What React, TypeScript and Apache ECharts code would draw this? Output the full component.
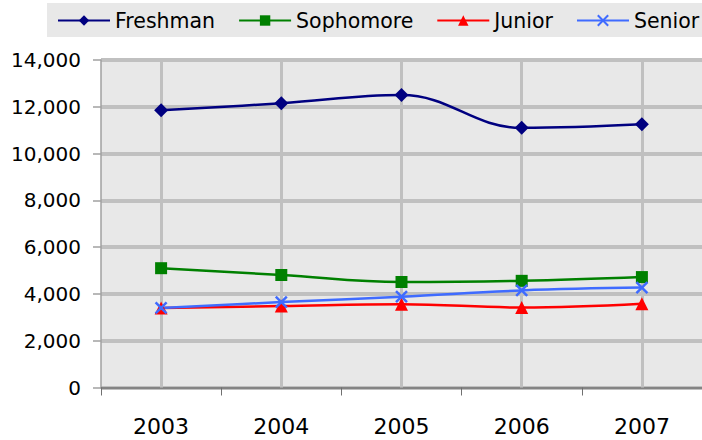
import React, { useEffect, useRef } from "react";
import * as echarts from "echarts";

const categories = ["2003", "2004", "2005", "2006", "2007"];
const freshman = [11850, 12150, 12500, 11100, 11250];
const sophomore = [5100, 4810, 4510, 4560, 4720];
const junior = [3400, 3480, 3560, 3420, 3580];
const senior = [3400, 3650, 3880, 4150, 4270];
const yTicks = { min: 0, max: 14000, interval: 2000 };

const FONT = "DejaVu Sans";

export default function App() {
  const ref = useRef<HTMLDivElement>(null);
  useEffect(() => {
    if (!ref.current) return;
    const chart = echarts.init(ref.current, null, { renderer: "svg" });
    const mkLine = (name: string, data: number[], color: string, symbol: string, size: number, extra: any = {}) => ({
      name,
      type: "line",
      data,
      smooth: 0.4,
      symbol,
      symbolSize: size,
      lineStyle: { color, width: 2.5 },
      itemStyle: { color, ...extra },
      z: 3,
    });
    chart.setOption({
      animation: false,
      textStyle: { fontFamily: FONT },
      legend: {
        data: ["Freshman", "Sophomore", "Junior", "Senior"],
        left: 47,
        top: 3,
        width: 700,
        padding: [7, 14, 6, 10],
        backgroundColor: "#e8e8e8",
        itemWidth: 52,
        itemHeight: 13,
        itemGap: 23,
        textStyle: { fontFamily: FONT, fontSize: 20.5, color: "#000" },
      },
      grid: {
        left: 101,
        top: 60,
        width: 605,
        height: 327.5,
        show: true,
        backgroundColor: "#e8e8e8",
        borderWidth: 0,
        containLabel: false,
      },
      xAxis: {
        type: "category",
        data: categories,
        boundaryGap: true,
        axisLine: { show: true, lineStyle: { color: "#707070", width: 1.5 } },
        axisTick: { show: true, length: 8, lineStyle: { color: "#707070", width: 1 } },
        axisLabel: { fontFamily: FONT, fontSize: 22, color: "#000", margin: 28 },
        splitLine: { show: false },
      },
      yAxis: {
        type: "value",
        min: yTicks.min,
        max: yTicks.max,
        interval: yTicks.interval,
        axisLine: { show: true, lineStyle: { color: "#a0a0a0", width: 1.5 } },
        axisTick: { show: true, length: 8, lineStyle: { color: "#a0a0a0", width: 1.5 } },
        axisLabel: {
          fontFamily: FONT,
          fontSize: 20,
          color: "#000",
          margin: 20,
          formatter: (v: number) => v.toLocaleString("en-US"),
        },
        splitLine: { show: true, lineStyle: { color: "#c0c0c0", width: 4 } },
      },
      series: [
        {
          name: "vgrid",
          type: "line",
          data: categories.map(() => "-"),
          showSymbol: false,
          silent: true,
          z: 1,
          markLine: {
            z: 1,
            silent: true,
            symbol: ["none", "none"],
            label: { show: false },
            lineStyle: { color: "#c0c0c0", width: 3, type: "solid" },
            emphasis: { disabled: true },
            data: categories.map((c) => ({ xAxis: c })),
          },
        },
        mkLine("Freshman", freshman, "#000080", "diamond", 14),
        mkLine("Sophomore", sophomore, "#008000", "rect", 12),
        mkLine("Junior", junior, "#ff0000", "triangle", 13),
        mkLine("Senior", senior, "#3f6bff", "path://M0,0L10,10M10,0L0,10", 11, {
          borderColor: "#3f6bff",
          borderWidth: 2.5,
        }),
      ],
    });
    return () => chart.dispose();
  }, []);
  return (
    <div
      ref={ref}
      style={{ position: "fixed", left: 0, top: 0, width: 702, height: 440, background: "#fff" }}
    />
  );
}
